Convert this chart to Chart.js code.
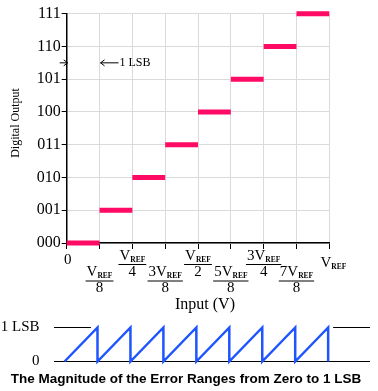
<!DOCTYPE html>
<html>
<head>
<meta charset="utf-8">
<script src="https://cdn.jsdelivr.net/npm/chart.js@4.4.1/dist/chart.umd.min.js"></script>
<style>
  html, body { margin: 0; padding: 0; background: #fff; }
  #wrap { position: relative; width: 378px; height: 391px; overflow: hidden; }
  #transfer { position: absolute; left: 0; top: 0; }
  #error { position: absolute; left: 0; top: 312px; }
</style>
</head>
<body>
<div id="wrap">
  <canvas id="transfer" width="378" height="315"></canvas>
  <canvas id="error" width="378" height="79"></canvas>
</div>
<script>
  // ── Data ──────────────────────────────────────────
  const codes = ['000', '001', '010', '011', '100', '101', '110', '111'];
  const stepStart = [0, 1, 2, 3, 4, 5, 6, 7];   // input in units of VREF/8
  const stepEnd   = [1, 2, 3, 4, 5, 6, 7, 8];
  const stepCode  = [0, 1, 2, 3, 4, 5, 6, 7];
  const inputTicks = ['0', 'VREF/8', 'VREF/4', '3VREF/8', 'VREF/2', '5VREF/8', '3VREF/4', '7VREF/8', 'VREF'];

  const errX = [0, 1, 1, 2, 2, 3, 3, 4, 4, 5, 5, 6, 6, 7, 7, 8, 8];
  const errY = [0, 1, 0, 1, 0, 1, 0, 1, 0, 1, 0, 1, 0, 1, 0, 1, 0];
  const errTicks = ['0', '1 LSB'];
  const lsbLeftX  = [-0.32, 0.8];
  const lsbRightX = [8.15, 9.27];
  const zeroX     = [-0.32, 9.27];

  const serif = '"Liberation Serif", "Times New Roman", serif';
  const sans = '"Liberation Sans", Arial, sans-serif';

  // ── Transfer curve ──────────────────────────────────────────
  const stepPts = [];
  stepCode.forEach((c, i) => {
    stepPts.push({ x: stepStart[i], y: c }, { x: stepEnd[i], y: c }, { x: stepEnd[i], y: null });
  });

  // numerator like '3VREF' -> '3V' + subscript 'REF'
  function drawVref(ctx, text, cx, baseline) {
    const hasRef = text.includes('REF');
    const main = text.replace('REF', '');
    ctx.font = `15px ${serif}`;
    const wMain = ctx.measureText(main).width;
    ctx.font = `bold 7.5px ${serif}`;
    const wSub = hasRef ? ctx.measureText('REF').width : 0;
    const x0 = cx - (wMain + wSub) / 2;
    ctx.textAlign = 'left';
    ctx.font = `15px ${serif}`;
    ctx.fillText(main, x0, baseline);
    if (hasRef) {
      ctx.font = `bold 7.5px ${serif}`;
      ctx.fillText('REF', x0 + wMain, baseline + 2);
    }
    return wMain + wSub;
  }

  const inputLabels = {
    id: 'inputLabels',
    afterDraw(chart) {
      const { ctx, scales: { x, y } } = chart;
      const axisY = y.getPixelForValue(0);
      ctx.save();
      ctx.fillStyle = '#000';
      ctx.strokeStyle = '#000';
      ctx.textBaseline = 'alphabetic';
      inputTicks.forEach((t, i) => {
        const cx = x.getPixelForValue(i);
        if (!t.includes('/')) {
          if (t === '0') {
            ctx.font = `15px ${serif}`; ctx.textAlign = 'center';
            ctx.fillText(t, cx + 1, axisY + 21);
          } else {
            drawVref(ctx, t, cx + 4, axisY + 23.5);
          }
          return;
        }
        const [num, den] = t.split('/');
        const lineY = (i % 2 === 1) ? axisY + 37.5 : axisY + 21;
        const w = drawVref(ctx, num, cx, lineY - 4.5);
        ctx.lineWidth = 1;
        ctx.beginPath();
        ctx.moveTo(cx - w / 2 - 1, lineY + 0.5);
        ctx.lineTo(cx + w / 2 + 1, lineY + 0.5);
        ctx.stroke();
        ctx.font = `15px ${serif}`; ctx.textAlign = 'center';
        ctx.fillText(den, cx, lineY + 11.5);
      });

      // axis titles
      ctx.font = `16px ${serif}`; ctx.textAlign = 'center';
      ctx.fillText('Input (V)', 205, 309);
      ctx.save();
      ctx.translate(19, 123);
      ctx.rotate(-Math.PI / 2);
      ctx.font = `12px ${serif}`;
      ctx.fillText('Digital Output', 0, 0);
      ctx.restore();

      // 1 LSB marker
      const ay = y.getPixelForValue(5.5);
      const x0 = x.getPixelForValue(0), x1 = x.getPixelForValue(1);
      ctx.lineWidth = 1;
      ctx.beginPath();
      ctx.moveTo(x0 - 7, ay); ctx.lineTo(x0 + 1, ay);
      ctx.moveTo(x0 - 3, ay - 3); ctx.lineTo(x0 + 1, ay); ctx.lineTo(x0 - 3, ay + 3);
      ctx.moveTo(x1 + 1, ay); ctx.lineTo(x1 + 19, ay);
      ctx.moveTo(x1 + 5, ay - 3); ctx.lineTo(x1 + 1, ay); ctx.lineTo(x1 + 5, ay + 3);
      ctx.stroke();
      ctx.font = `12px ${serif}`; ctx.textAlign = 'left'; ctx.textBaseline = 'middle';
      ctx.fillText('1 LSB', x1 + 20, ay + 0.5);
      ctx.restore();
    }
  };

  const gridOpts = { color: '#dadada', tickColor: '#000', lineWidth: 1 };

  new Chart(document.getElementById('transfer'), {
    type: 'scatter',
    data: { datasets: [{ data: stepPts, showLine: true, spanGaps: false, borderColor: '#ff0a64', borderWidth: 5,
      borderCapStyle: 'butt', pointRadius: 0, clip: false }] },
    options: { responsive: false, animation: false, events: [],
      layout: { padding: { left: 0, right: 48.7, top: 13.7, bottom: 0 } },
      plugins: { legend: { display: false }, tooltip: { enabled: false } },
      scales: {
        x: { type: 'linear', min: 0, max: 8, afterFit: s => { s.height = 72; },
             ticks: { stepSize: 1, display: false },
             grid: { ...gridOpts, tickLength: 6 }, border: { color: '#000', width: 1.5 } },
        y: { type: 'linear', min: 0, max: 7, afterFit: s => { s.width = 66.7; },
             ticks: { stepSize: 1, callback: v => codes[v], font: { family: serif, size: 16 }, color: '#000', padding: 1 },
             grid: { ...gridOpts, tickLength: 5 }, border: { color: '#000', width: 1.5 } }
      }
    },
    plugins: [inputLabels]
  });

  // ── Error ramp ──────────────────────────────────────────
  const errTitle = {
    id: 'errTitle',
    afterDraw(chart) {
      const { ctx } = chart;
      ctx.save();
      ctx.fillStyle = '#000';
      ctx.font = `bold 13.5px ${sans}`;
      ctx.textAlign = 'center';
      ctx.textBaseline = 'alphabetic';
      ctx.fillText('The Magnitude of the Error Ranges from Zero to 1 LSB', 186, 71);
      ctx.restore();
    }
  };

  const line = (xs, v) => xs.map(x => ({ x, y: v }));
  new Chart(document.getElementById('error'), {
    type: 'scatter',
    data: { datasets: [
      { data: errX.map((x, i) => ({ x, y: errY[i] })), showLine: true, borderColor: '#1f55ff', borderWidth: 2.5, pointRadius: 0, clip: false },
      { data: line(zeroX, 0), showLine: true, borderColor: '#000', borderWidth: 1.2, pointRadius: 0, clip: false },
      { data: line(lsbLeftX, 1), showLine: true, borderColor: '#000', borderWidth: 1.2, pointRadius: 0, clip: false },
      { data: line(lsbRightX, 1), showLine: true, borderColor: '#000', borderWidth: 1.2, pointRadius: 0, clip: false }
    ] },
    options: { responsive: false, animation: false, events: [],
      layout: { padding: { left: 0, right: 8, top: 14, bottom: 0 } },
      plugins: { legend: { display: false }, tooltip: { enabled: false } },
      scales: {
        x: { type: 'linear', min: zeroX[0], max: zeroX[1], display: true, afterFit: s => { s.height = 29.5; },
             ticks: { display: false }, grid: { display: false }, border: { display: false } },
        y: { type: 'linear', min: 0, max: 1, afterFit: s => { s.width = 54; },
             ticks: { stepSize: 1, callback: v => errTicks[v], font: { family: serif, size: 15 }, color: '#000', padding: 6.5 },
             grid: { display: false }, border: { display: false } }
      }
    },
    plugins: [errTitle]
  });
</script>
</body>
</html>
